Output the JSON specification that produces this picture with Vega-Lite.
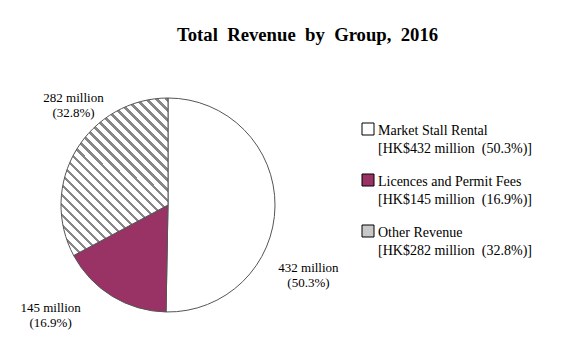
{
  "$schema": "https://vega.github.io/schema/vega-lite/v6.json",
  "width": 300,
  "height": 240,
  "autosize": {"type": "none"},
  "padding": {"left": 18, "top": 85, "right": 258, "bottom": 34},
  "background": "white",
  "title": {"text": "Total\u00a0 Revenue\u00a0 by\u00a0 Group,\u00a0 2016", "font": "Liberation Serif", "fontSize": 18.7, "fontWeight": "bold", "anchor": "start", "dx": 159, "offset": 40, "color": "black"},
  "config": {"view": {"stroke": null}, "font": "Liberation Serif"},
  "data": {"values": [
    {"group": "Market Stall Rental", "value": 432, "order": 1, "legend": "Market Stall Rental|[HK$432 million\u00a0 (50.3%)]", "label": "432 million\n(50.3%)"},
    {"group": "Licences and Permit Fees", "value": 145, "order": 2, "legend": "Licences and Permit Fees|[HK$145 million\u00a0 (16.9%)]", "label": "145 million\n(16.9%)"},
    {"group": "Other Revenue", "value": 282, "order": 3, "legend": "Other Revenue|[HK$282 million\u00a0 (32.8%)]", "label": "282 million\n(32.8%)"}
  ]},
  "encoding": {
    "theta": {"field": "value", "type": "quantitative", "stack": true},
    "order": {"field": "order", "type": "quantitative"}
  },
  "layer": [
    {
      "mark": {"type": "arc", "outerRadius": 107, "stroke": "#555555", "strokeWidth": 1},
      "encoding": {
        "color": {
          "condition": {"test": "datum.group === 'Other Revenue'", "value": {"gradient": "linear", "x1": 0, "y1": 1, "x2": 0.8, "y2": -0.176, "stops": [
              {"offset": 0, "color": "#888888"}, {"offset": 0.012, "color": "#888888"}, {"offset": 0.012, "color": "#ffffff"}, {"offset": 0.037, "color": "#ffffff"},
              {"offset": 0.037, "color": "#888888"}, {"offset": 0.049, "color": "#888888"}, {"offset": 0.049, "color": "#ffffff"}, {"offset": 0.074, "color": "#ffffff"},
              {"offset": 0.074, "color": "#888888"}, {"offset": 0.086, "color": "#888888"}, {"offset": 0.086, "color": "#ffffff"}, {"offset": 0.111, "color": "#ffffff"},
              {"offset": 0.111, "color": "#888888"}, {"offset": 0.123, "color": "#888888"}, {"offset": 0.123, "color": "#ffffff"}, {"offset": 0.148, "color": "#ffffff"},
              {"offset": 0.148, "color": "#888888"}, {"offset": 0.16, "color": "#888888"}, {"offset": 0.16, "color": "#ffffff"}, {"offset": 0.185, "color": "#ffffff"},
              {"offset": 0.185, "color": "#888888"}, {"offset": 0.197, "color": "#888888"}, {"offset": 0.197, "color": "#ffffff"}, {"offset": 0.222, "color": "#ffffff"},
              {"offset": 0.222, "color": "#888888"}, {"offset": 0.234, "color": "#888888"}, {"offset": 0.234, "color": "#ffffff"}, {"offset": 0.259, "color": "#ffffff"},
              {"offset": 0.259, "color": "#888888"}, {"offset": 0.271, "color": "#888888"}, {"offset": 0.271, "color": "#ffffff"}, {"offset": 0.296, "color": "#ffffff"},
              {"offset": 0.296, "color": "#888888"}, {"offset": 0.308, "color": "#888888"}, {"offset": 0.308, "color": "#ffffff"}, {"offset": 0.333, "color": "#ffffff"},
              {"offset": 0.333, "color": "#888888"}, {"offset": 0.345, "color": "#888888"}, {"offset": 0.345, "color": "#ffffff"}, {"offset": 0.37, "color": "#ffffff"},
              {"offset": 0.37, "color": "#888888"}, {"offset": 0.382, "color": "#888888"}, {"offset": 0.382, "color": "#ffffff"}, {"offset": 0.407, "color": "#ffffff"},
              {"offset": 0.407, "color": "#888888"}, {"offset": 0.419, "color": "#888888"}, {"offset": 0.419, "color": "#ffffff"}, {"offset": 0.444, "color": "#ffffff"},
              {"offset": 0.444, "color": "#888888"}, {"offset": 0.456, "color": "#888888"}, {"offset": 0.456, "color": "#ffffff"}, {"offset": 0.481, "color": "#ffffff"},
              {"offset": 0.481, "color": "#888888"}, {"offset": 0.493, "color": "#888888"}, {"offset": 0.493, "color": "#ffffff"}, {"offset": 0.518, "color": "#ffffff"},
              {"offset": 0.518, "color": "#888888"}, {"offset": 0.53, "color": "#888888"}, {"offset": 0.53, "color": "#ffffff"}, {"offset": 0.555, "color": "#ffffff"},
              {"offset": 0.555, "color": "#888888"}, {"offset": 0.567, "color": "#888888"}, {"offset": 0.567, "color": "#ffffff"}, {"offset": 0.592, "color": "#ffffff"},
              {"offset": 0.592, "color": "#888888"}, {"offset": 0.604, "color": "#888888"}, {"offset": 0.604, "color": "#ffffff"}, {"offset": 0.629, "color": "#ffffff"},
              {"offset": 0.629, "color": "#888888"}, {"offset": 0.641, "color": "#888888"}, {"offset": 0.641, "color": "#ffffff"}, {"offset": 0.666, "color": "#ffffff"},
              {"offset": 0.666, "color": "#888888"}, {"offset": 0.678, "color": "#888888"}, {"offset": 0.678, "color": "#ffffff"}, {"offset": 0.703, "color": "#ffffff"},
              {"offset": 0.703, "color": "#888888"}, {"offset": 0.715, "color": "#888888"}, {"offset": 0.715, "color": "#ffffff"}, {"offset": 0.74, "color": "#ffffff"},
              {"offset": 0.74, "color": "#888888"}, {"offset": 0.752, "color": "#888888"}, {"offset": 0.752, "color": "#ffffff"}, {"offset": 0.777, "color": "#ffffff"},
              {"offset": 0.777, "color": "#888888"}, {"offset": 0.789, "color": "#888888"}, {"offset": 0.789, "color": "#ffffff"}, {"offset": 0.814, "color": "#ffffff"},
              {"offset": 0.814, "color": "#888888"}, {"offset": 0.826, "color": "#888888"}, {"offset": 0.826, "color": "#ffffff"}, {"offset": 0.851, "color": "#ffffff"},
              {"offset": 0.851, "color": "#888888"}, {"offset": 0.863, "color": "#888888"}, {"offset": 0.863, "color": "#ffffff"}, {"offset": 0.888, "color": "#ffffff"},
              {"offset": 0.888, "color": "#888888"}, {"offset": 0.9, "color": "#888888"}, {"offset": 0.9, "color": "#ffffff"}, {"offset": 0.925, "color": "#ffffff"},
              {"offset": 0.925, "color": "#888888"}, {"offset": 0.937, "color": "#888888"}, {"offset": 0.937, "color": "#ffffff"}, {"offset": 0.962, "color": "#ffffff"},
              {"offset": 0.962, "color": "#888888"}, {"offset": 0.974, "color": "#888888"}, {"offset": 0.974, "color": "#ffffff"}, {"offset": 1, "color": "#ffffff"}
            ]}},
          "field": "legend", "type": "nominal",
          "scale": {
            "domain": ["Market Stall Rental|[HK$432 million\u00a0 (50.3%)]", "Licences and Permit Fees|[HK$145 million\u00a0 (16.9%)]", "Other Revenue|[HK$282 million\u00a0 (32.8%)]"],
            "range": ["#ffffff", "#993366", "#c8c8c8"]
          },
          "legend": {
            "orient": "none", "legendX": 343, "legendY": 37, "title": null,
            "symbolType": "square", "symbolSize": 144, "symbolStrokeColor": "#000000", "symbolStrokeWidth": 1,
            "labelFont": "Liberation Serif", "labelFontSize": 14, "labelColor": "#000000",
            "labelExpr": "split(datum.label, '|')", "labelLimit": 0, "labelOffset": 3,
            "labelBaseline": "top", "rowPadding": 16,
            "encoding": {
              "labels": {"lineHeight": {"value": 18}, "dy": {"value": -5}},
              "symbols": {
                "stroke": {"value": "#000000"},
                "strokeWidth": {"value": 1},
                "fill": {
                  "condition": [
                    {"test": "indexof(datum.value, 'Other') === 0", "value": {"gradient": "linear", "x1": 0, "y1": 1, "x2": 1, "y2": 0, "stops": [
                      {"offset": 0, "color": "#555555"}, {"offset": 0.07, "color": "#555555"}, {"offset": 0.07, "color": "#ffffff"}, {"offset": 0.2, "color": "#ffffff"},
                      {"offset": 0.2, "color": "#555555"}, {"offset": 0.27, "color": "#555555"}, {"offset": 0.27, "color": "#ffffff"}, {"offset": 0.4, "color": "#ffffff"},
                      {"offset": 0.4, "color": "#555555"}, {"offset": 0.47, "color": "#555555"}, {"offset": 0.47, "color": "#ffffff"}, {"offset": 0.6, "color": "#ffffff"},
                      {"offset": 0.6, "color": "#555555"}, {"offset": 0.67, "color": "#555555"}, {"offset": 0.67, "color": "#ffffff"}, {"offset": 0.8, "color": "#ffffff"},
                      {"offset": 0.8, "color": "#555555"}, {"offset": 0.87, "color": "#555555"}, {"offset": 0.87, "color": "#ffffff"}, {"offset": 1, "color": "#ffffff"}
                    ]}},
                    {"test": "indexof(datum.value, 'Licences') === 0", "value": "#993366"}
                  ],
                  "value": "#ffffff"
                }
              }
            }
          }
        }
      }
    },
    {
      "mark": {"type": "text", "radius": 150, "thetaOffset": 0.35, "dy": 10, "font": "Liberation Serif", "fontSize": 13, "lineBreak": "\n", "align": "center", "baseline": "middle", "color": "#000000"},
      "encoding": {"text": {"field": "label", "type": "nominal"}}
    }
  ]
}
